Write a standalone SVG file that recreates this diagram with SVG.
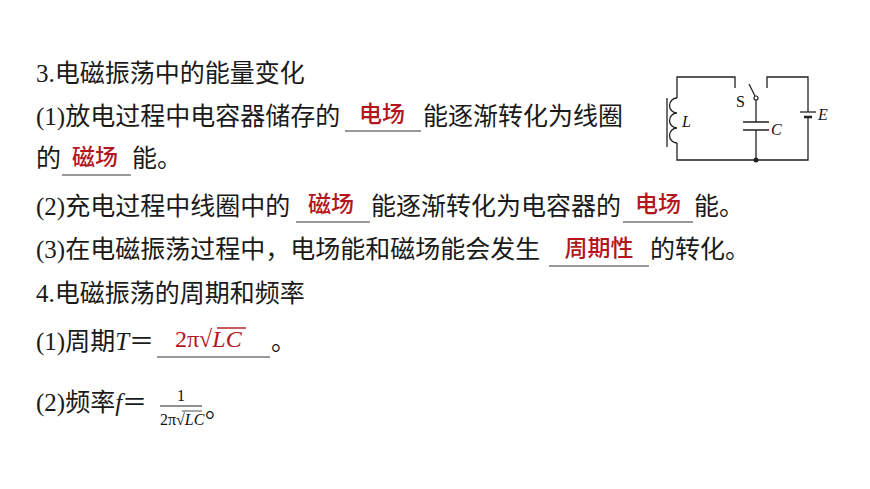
<svg xmlns="http://www.w3.org/2000/svg" width="870" height="489" viewBox="0 0 870 489">
<style>
.t{font-family:"Liberation Serif","Noto Sans CJK SC",serif;font-size:25px;fill:#1a1a1a}
.r{font-family:"Liberation Sans","Noto Sans CJK SC",sans-serif;font-size:23px;font-weight:500;fill:#b3161c;text-anchor:middle}
.u{stroke:#333;stroke-width:1}
.w{stroke:#222;stroke-width:1.3;fill:none}
.c{font-family:"Liberation Serif",serif;font-size:16px;fill:#111}
</style>
<rect width="870" height="489" fill="#fff"/>
<g id="text">
<text class="t" x="36" y="82">3.电磁振荡中的能量变化</text>
<text class="t" x="36" y="125">(1)放电过程中电容器储存的</text>
<line class="u" x1="345" y1="131" x2="421" y2="131"/>
<text class="r" x="382" y="122">电场</text>
<text class="t" x="423" y="125">能逐渐转化为线圈</text>
<text class="t" x="36" y="167">的</text>
<line class="u" x1="62" y1="175" x2="131" y2="175"/>
<text class="r" x="95" y="165">磁场</text>
<text class="t" x="132" y="167">能。</text>
<text class="t" x="36" y="215">(2)充电过程中线圈中的</text>
<line class="u" x1="296" y1="222" x2="370" y2="222"/>
<text class="r" x="331" y="212">磁场</text>
<text class="t" x="371" y="215">能逐渐转化为电容器的</text>
<line class="u" x1="623" y1="222" x2="693" y2="222"/>
<text class="r" x="658" y="212">电场</text>
<text class="t" x="694" y="215">能。</text>
<text class="t" x="36" y="258">(3)在电磁振荡过程中，电场能和磁场能会发生</text>
<line class="u" x1="549" y1="266" x2="649" y2="266"/>
<text class="r" x="599" y="256">周期性</text>
<text class="t" x="650" y="258">的转化。</text>
<text class="t" x="36" y="302">4.电磁振荡的周期和频率</text>
<text class="t" x="36" y="350">(1)周期<tspan font-style="italic">T</tspan>＝</text>
<line class="u" x1="157" y1="357" x2="270" y2="357"/>
<text x="175" y="347" font-family="Liberation Serif,serif" font-size="24" fill="#b3161c">2π√<tspan font-style="italic">LC</tspan></text>
<line x1="217" y1="328" x2="246" y2="328" stroke="#b3161c" stroke-width="1.4"/>
<text class="t" x="271" y="350">。</text>
<text class="t" x="36" y="411">(2)频率<tspan font-style="italic">f</tspan>＝</text>
<text class="c" x="181" y="401" text-anchor="middle">1</text>
<line x1="160" y1="406" x2="202" y2="406" stroke="#222" stroke-width="1"/>
<text class="c" x="160" y="425">2π√<tspan font-style="italic">LC</tspan></text>
<line x1="182" y1="411" x2="202" y2="411" stroke="#222" stroke-width="0.8"/>
<text class="t" x="205" y="417">。</text>
</g>
<g id="circuit">
<path class="w" d="M735,88 V77 H677 V98 M677,143 V160 H808 V117 M808,112 V77 H767 V88"/>
<path class="w" d="M677,98 a7.5,7.5 0 0 0 0,15 a7.5,7.5 0 0 0 0,15 a7.5,7.5 0 0 0 0,15"/>
<line class="w" x1="667" y1="98" x2="667" y2="147"/>
<path class="w" d="M756,160 V130 M743,130 H769 M743,122 H769 M756,122 V100"/>
<line class="w" x1="755" y1="96" x2="749" y2="84"/>
<circle cx="756" cy="98" r="2" fill="#fff" stroke="#222" stroke-width="1.2"/>
<circle cx="756" cy="160" r="2.5" fill="#222"/>
<line class="w" x1="800" y1="112" x2="816" y2="112"/>
<line x1="804" y1="117" x2="812" y2="117" stroke="#222" stroke-width="2.5"/>
<text class="c" x="736" y="107">S</text>
<text class="c" x="771" y="135" font-style="italic">C</text>
<text class="c" x="682" y="127" font-style="italic">L</text>
<text class="c" x="818" y="120" font-style="italic">E</text>
</g>
</svg>
